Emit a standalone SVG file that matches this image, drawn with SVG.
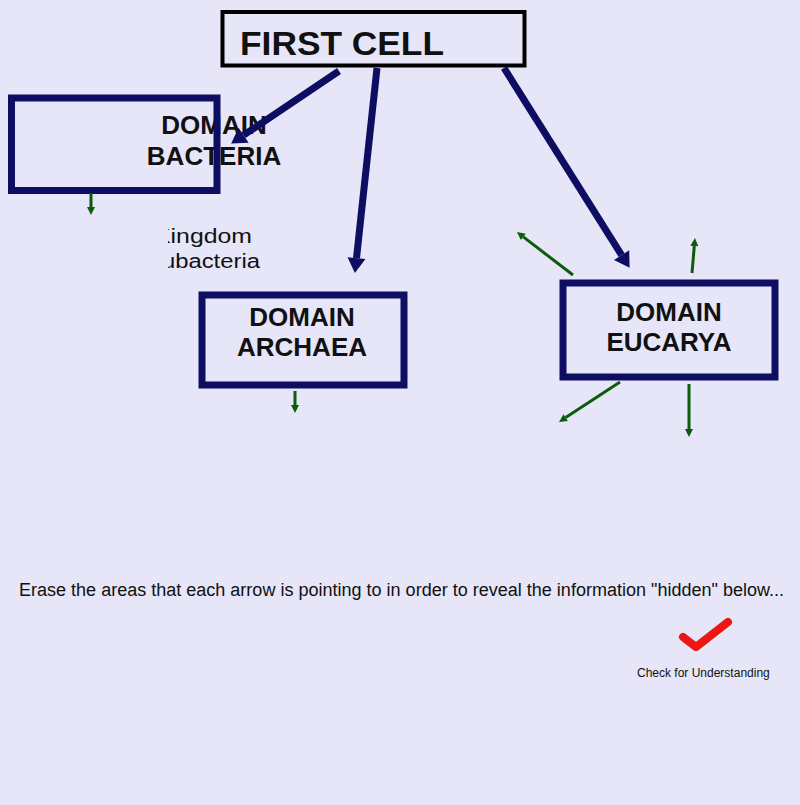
<svg xmlns="http://www.w3.org/2000/svg" width="800" height="805" viewBox="0 0 800 805">
<style>
.bg{fill:#e6e6f8}
.dom{fill:none;stroke:#0d0d62;stroke-width:7}
.dt{font-family:"Liberation Sans",Arial,sans-serif;font-weight:bold;font-size:26px;fill:#111;text-anchor:middle}
.nv{stroke:#0d0d62;stroke-width:7;fill:none}
.gr{stroke:#0b5c0b;stroke-width:3;fill:none}
.sm{font-family:"Liberation Sans",Arial,sans-serif;fill:#111}
</style>
<defs>
<marker id="hn" markerUnits="userSpaceOnUse" orient="auto" markerWidth="20" markerHeight="20" refX="0" refY="0" viewBox="0 -10 20 20" overflow="visible">
<path d="M0,-9 L15,0 L0,9 z" fill="#0d0d62"/>
</marker>
<marker id="hg" markerUnits="userSpaceOnUse" orient="auto" markerWidth="10" markerHeight="10" refX="0" refY="0" viewBox="0 -5 10 10" overflow="visible">
<path d="M0,-4 L8,0 L0,4 z" fill="#0b5c0b"/>
</marker>
<clipPath id="kc"><rect x="168" y="220" width="120" height="60"/></clipPath>
</defs>
<rect class="bg" x="0" y="0" width="800" height="805"/>

<g id="first-cell">
<rect x="222.5" y="12" width="302" height="53.5" fill="none" stroke="#000" stroke-width="4"/>
<text class="sm" x="240" y="55" font-size="33" font-weight="bold" textLength="204" lengthAdjust="spacingAndGlyphs">FIRST CELL</text>
</g>

<g id="domain-bacteria">
<text class="dt" x="214" y="134">DOMAIN</text>
<text class="dt" x="214" y="165">BACTERIA</text>
<rect class="dom" x="11.5" y="98" width="205.5" height="92.5"/>
</g>

<g id="kingdom-eubacteria" clip-path="url(#kc)">
<text class="sm" x="154" y="243" font-size="20" textLength="98" lengthAdjust="spacingAndGlyphs">Kingdom</text>
<text class="sm" x="146" y="268" font-size="20" textLength="114" lengthAdjust="spacingAndGlyphs">Eubacteria</text>
</g>

<g id="domain-archaea">
<rect class="dom" x="202" y="295" width="202" height="90"/>
<text class="dt" x="302" y="326">DOMAIN</text>
<text class="dt" x="302" y="356">ARCHAEA</text>
</g>

<g id="domain-eucarya">
<rect class="dom" x="563" y="283" width="212" height="94"/>
<text class="dt" x="669" y="321">DOMAIN</text>
<text class="dt" x="669" y="351">EUCARYA</text>
</g>

<g id="connectors">
<line class="nv" x1="339" y1="71" x2="243.6" y2="135.2" marker-end="url(#hn)"/>
<line class="nv" x1="377" y1="68" x2="356.5" y2="258.1" marker-end="url(#hn)"/>
<line class="nv" x1="504" y1="68" x2="621.6" y2="255.1" marker-end="url(#hn)"/>
<line class="gr" x1="91" y1="193" x2="91" y2="207" marker-end="url(#hg)"/>
<line class="gr" x1="295" y1="391" x2="295" y2="405" marker-end="url(#hg)"/>
<line class="gr" x1="573" y1="275" x2="523.3" y2="236.9" marker-end="url(#hg)"/>
<line class="gr" x1="692" y1="273" x2="694.3" y2="246" marker-end="url(#hg)"/>
<line class="gr" x1="620" y1="382" x2="565.7" y2="417.6" marker-end="url(#hg)"/>
<line class="gr" x1="689" y1="384" x2="689" y2="429" marker-end="url(#hg)"/>
</g>

<g id="instructions">
<text class="sm" x="19" y="596" font-size="18" textLength="765" lengthAdjust="spacingAndGlyphs">Erase the areas that each arrow is pointing to in order to reveal the information "hidden" below...</text>
</g>

<g id="check">
<polyline points="683,637 696,647 728,622" fill="none" stroke="#ee1515" stroke-width="8" stroke-linecap="round" stroke-linejoin="round"/>
<text class="sm" x="637" y="677" font-size="12">Check for Understanding</text>
</g>
</svg>
